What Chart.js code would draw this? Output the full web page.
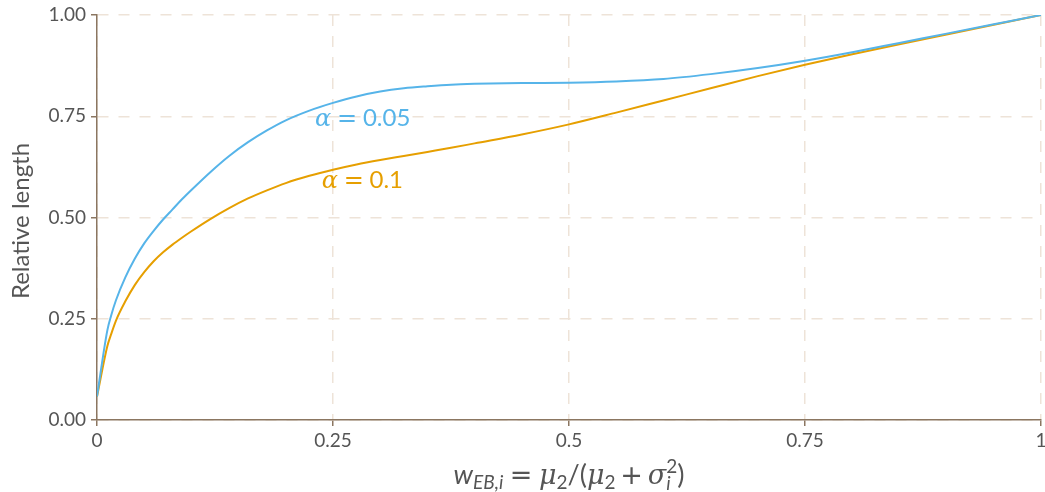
<!DOCTYPE html>
<html>
<head>
<meta charset="utf-8">
<script src="https://cdn.jsdelivr.net/npm/chart.js@4"></script>
<style>
  html, body { margin: 0; padding: 0; background: #fff; }
  #wrap { width: 1045px; height: 492px; }
</style>
</head>
<body>
<div id="wrap"><canvas id="chart"></canvas></div>
<script>
// weights on the x axis
const weights = [0, 0.011, 0.015, 0.02, 0.03, 0.04, 0.05, 0.06, 0.07, 0.08, 0.09, 0.1, 0.12, 0.14, 0.16, 0.18, 0.2,
                 0.225, 0.25, 0.275, 0.3, 0.325, 0.35, 0.375, 0.4, 0.45, 0.5, 0.55, 0.6, 0.65, 0.7, 0.75, 0.8, 0.85, 0.9, 0.95, 1];
// relative length, alpha = 0.05
const lenAlpha005 = [0.058, 0.222, 0.258, 0.295, 0.352, 0.398, 0.436, 0.467, 0.495, 0.520, 0.545, 0.568, 0.612, 0.652, 0.686, 0.715, 0.740,
                     0.764, 0.783, 0.799, 0.811, 0.819, 0.824, 0.828, 0.830, 0.832, 0.833, 0.836, 0.842, 0.854, 0.869, 0.887, 0.908, 0.931, 0.954, 0.977, 1.0];
// relative length, alpha = 0.1
const lenAlpha010 = [0.058, 0.183, 0.212, 0.245, 0.293, 0.333, 0.365, 0.392, 0.414, 0.433, 0.450, 0.466, 0.496, 0.523, 0.547, 0.567, 0.585,
                     0.603, 0.618, 0.631, 0.642, 0.652, 0.662, 0.672, 0.683, 0.705, 0.730, 0.759, 0.789, 0.819, 0.849, 0.877, 0.903, 0.928, 0.952, 0.976, 1.0];
const xTicks = [0, 0.25, 0.5, 0.75, 1];
const xTickLabels = ['0', '0.25', '0.5', '0.75', '1'];
const yTicks = [0, 0.25, 0.5, 0.75, 1];
const yTickLabels = ['0.00', '0.25', '0.50', '0.75', '1.00'];

const BLUE = '#56B4E9';
const ORANGE = '#E69F00';
const AXIS = '#8b7661';
const GRID = '#eee3d8';
const TEXT = '#555555';
const SANS = 'Lato, "Open Sans", sans-serif';
const GREEK = '"DejaVu Serif", serif';
const OPS = '"DejaVu Sans", sans-serif';

function toPoints(ys) {
    return weights.map((w, i) => ({ x: w, y: ys[i] }));
}

function setFont(ctx, r, size) {
    const px = Math.round(size * (r.scale || 1));
    ctx.font = (r.italic ? 'italic ' : '') + px + 'px ' + (r.family || SANS);
}

function runWidth(ctx, r, size) {
    if (r.stack) {
        return Math.max(...r.stack.map(s => runWidth(ctx, s, size)));
    }
    setFont(ctx, r, size);
    return ctx.measureText(r.t).width + 2 * (r.pad || 0) * size;
}

function mathWidth(ctx, runs, size) {
    return runs.reduce((w, r) => w + runWidth(ctx, r, size), 0);
}

function drawMath(ctx, runs, x, baseline, size, color) {
    ctx.save();
    ctx.fillStyle = color;
    ctx.textBaseline = 'alphabetic';
    ctx.textAlign = 'left';
    runs.forEach(r => {
        if (r.stack) {
            r.stack.forEach(s => {
                setFont(ctx, s, size);
                ctx.fillText(s.t, x, baseline + (s.dy || 0) * size);
            });
        } else {
            setFont(ctx, r, size);
            ctx.fillText(r.t, x + (r.pad || 0) * size, baseline + (r.dy || 0) * size);
        }
        x += runWidth(ctx, r, size);
    });
    ctx.restore();
}

const alpha = t => [
    { t: 'α', italic: true, family: GREEK },
    { t: '=', pad: 0.24, family: OPS },
    { t: t }
];

const xTitle = [
    { t: 'w', italic: true },
    { t: 'EB,i', italic: true, scale: 0.72, dy: 0.2 },
    { t: '=', pad: 0.24, family: OPS },
    { t: 'μ', italic: true, family: GREEK },
    { t: '2', scale: 0.72, dy: 0.2 },
    { t: '/(' },
    { t: 'μ', italic: true, family: GREEK },
    { t: '2', scale: 0.72, dy: 0.2 },
    { t: '+', pad: 0.18, family: OPS },
    { t: 'σ', italic: true, family: GREEK },
    { stack: [{ t: '2', scale: 0.72, dy: -0.42 }, { t: 'i', italic: true, scale: 0.72, dy: 0.24 }] },
    { t: ')' }
];

const labelsPlugin = {
    id: 'labels',
    afterDatasetsDraw(chart) {
        const ctx = chart.ctx;
        const xs = chart.scales.x, ys = chart.scales.y;
        drawMath(ctx, alpha('0.05'), xs.getPixelForValue(0.231), ys.getPixelForValue(0.726), 24, BLUE);
        drawMath(ctx, alpha('0.1'), xs.getPixelForValue(0.238), ys.getPixelForValue(0.573), 24, ORANGE);

        // x axis title
        const size = 27;
        const w = mathWidth(ctx, xTitle, size);
        const cx = (chart.chartArea.left + chart.chartArea.right) / 2;
        drawMath(ctx, xTitle, cx - w / 2, 484, size, TEXT);

        // y axis title
        ctx.save();
        ctx.translate(21, 221);
        ctx.rotate(-Math.PI / 2);
        ctx.font = '24px ' + SANS;
        ctx.fillStyle = TEXT;
        ctx.textAlign = 'center';
        ctx.textBaseline = 'middle';
        ctx.fillText('Relative length', 0, 0);
        ctx.restore();
    }
};

const axisBase = {
    type: 'linear',
    min: 0,
    max: 1,
    grid: {
        color: GRID,
        lineWidth: 1.5,
        tickColor: AXIS,
        tickLength: 6,
        tickWidth: 1.5
    },
    border: { color: AXIS, width: 1.5, dash: [11, 10] }
};

new Chart(document.getElementById('chart').getContext('2d'), {
    type: 'line',
    data: {
        datasets: [
            {
                label: 'alpha = 0.05',
                data: toPoints(lenAlpha005),
                borderColor: BLUE,
                borderWidth: 2,
                pointRadius: 0,
                cubicInterpolationMode: 'monotone',
                fill: false
            },
            {
                label: 'alpha = 0.1',
                data: toPoints(lenAlpha010),
                borderColor: ORANGE,
                borderWidth: 2,
                pointRadius: 0,
                cubicInterpolationMode: 'monotone',
                fill: false
            }
        ]
    },
    options: {
        responsive: true,
        maintainAspectRatio: false,
        animation: false,
        layout: { padding: { top: 15, right: 4, left: 0, bottom: 0 } },
        plugins: {
            legend: { display: false },
            tooltip: { enabled: false }
        },
        scales: {
            x: {
                ...axisBase,
                afterBuildTicks: s => { s.ticks = xTicks.map(v => ({ value: v })); },
                afterFit: s => { s.height = 72; s.paddingLeft = 0; s.paddingRight = 0; },
                ticks: {
                    color: TEXT,
                    font: { family: SANS, size: 19 },
                    padding: 3,
                    maxRotation: 0,
                    callback: v => xTickLabels[xTicks.indexOf(v)]
                }
            },
            y: {
                ...axisBase,
                afterBuildTicks: s => { s.ticks = yTicks.map(v => ({ value: v })); },
                afterFit: s => { s.width = 97; s.paddingTop = 0; s.paddingBottom = 0; },
                ticks: {
                    color: TEXT,
                    font: { family: SANS, size: 19 },
                    padding: 5,
                    callback: v => yTickLabels[yTicks.indexOf(v)]
                }
            }
        }
    },
    plugins: [labelsPlugin]
});
</script>
</body>
</html>
